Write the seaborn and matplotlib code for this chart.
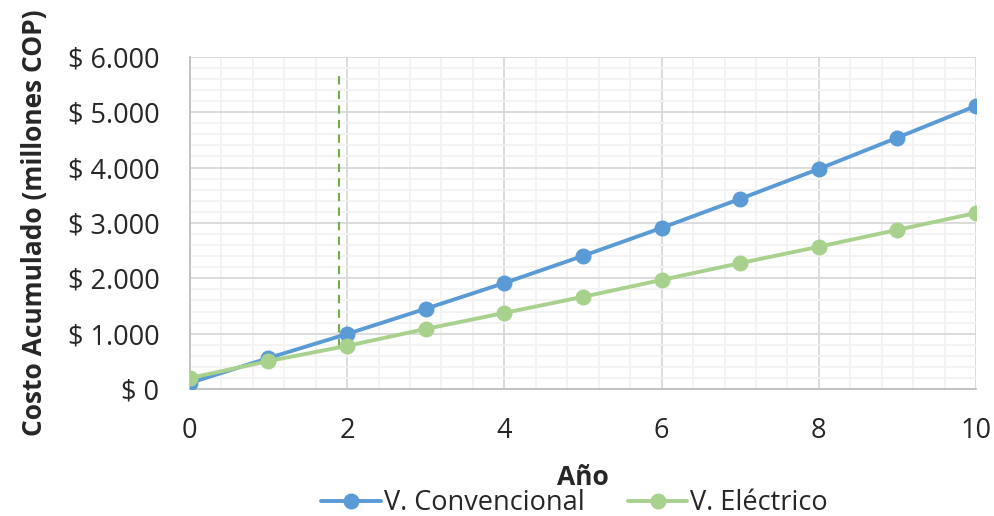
import numpy as np
import pandas as pd
import seaborn as sns
import matplotlib.pyplot as plt
from matplotlib.ticker import FuncFormatter, MultipleLocator

ANIOS = list(range(11))
COSTO_CONVENCIONAL = [110, 560, 995, 1450, 1915, 2405, 2910, 3435, 3975, 4540, 5115]
COSTO_ELECTRICO = [200, 505, 780, 1085, 1375, 1665, 1970, 2275, 2570, 2875, 3180]
SERIES = ["V. Convencional", "V. Eléctrico"]
X_CORTE = 1.9
Y_CORTE_TOPE = 5720

df = pd.DataFrame({
    "Año": ANIOS * 2,
    "Costo": COSTO_CONVENCIONAL + COSTO_ELECTRICO,
    "Serie": [SERIES[0]] * len(ANIOS) + [SERIES[1]] * len(ANIOS),
})

sns.set_style("white")
plt.rcParams['font.family'] = ['Open Sans', 'DejaVu Sans']

fig = plt.figure(figsize=(9.94, 5.16), dpi=100)
ax = fig.add_axes([0.191, 0.246, 0.791, 0.644])

colores = {SERIES[0]: "#5B9BD5", SERIES[1]: "#A9D18E"}
sns.lineplot(data=df, x="Año", y="Costo", hue="Serie", palette=colores, marker="o",
             markersize=11.5, markeredgewidth=0, linewidth=2.8, ax=ax, legend=True, zorder=3)

# dashed marker line at the crossing year
y_base = np.interp(X_CORTE, ANIOS, COSTO_ELECTRICO)
ax.plot([X_CORTE, X_CORTE], [y_base, Y_CORTE_TOPE], color="#70AD47", linestyle="--",
        linewidth=1.5, dashes=(4, 3), zorder=2)

ax.set_xlim(0, 10)
ax.set_ylim(0, 6000)
ax.xaxis.set_major_locator(MultipleLocator(2))
ax.xaxis.set_minor_locator(MultipleLocator(0.4))
ax.yaxis.set_major_locator(MultipleLocator(1000))
ax.yaxis.set_minor_locator(MultipleLocator(200))
ax.yaxis.set_major_formatter(FuncFormatter(lambda v, p: "$ " + f"{int(v):,}".replace(",", ".")))

ax.grid(which="major", color="#D9D9D9", linewidth=1.3)
ax.grid(which="minor", color="#F2F2F2", linewidth=1.3)
ax.set_axisbelow(True)
for side in ["top", "right"]:
    ax.spines[side].set_visible(False)
for side in ["left", "bottom"]:
    ax.spines[side].set_color("#BFBFBF")
    ax.spines[side].set_linewidth(1.3)

ax.tick_params(axis="both", which="both", length=0, labelsize=19.5)
ax.tick_params(axis="y", pad=22)
ax.tick_params(axis="x", pad=20)
ax.set_xlabel("Año", fontsize=19, fontweight="bold", labelpad=14)
ax.set_ylabel("Costo Acumulado (millones COP)", fontsize=19, fontweight="bold", labelpad=14)

handles, labels = ax.get_legend_handles_labels()
ax.get_legend().remove()
fig.legend(handles, labels, loc="lower center", bbox_to_anchor=(0.578, -0.05), ncol=2,
           frameon=False, fontsize=19.5, handlelength=2.2, handletextpad=0.1, columnspacing=1.6)

fig.savefig("out.png", dpi=100)
